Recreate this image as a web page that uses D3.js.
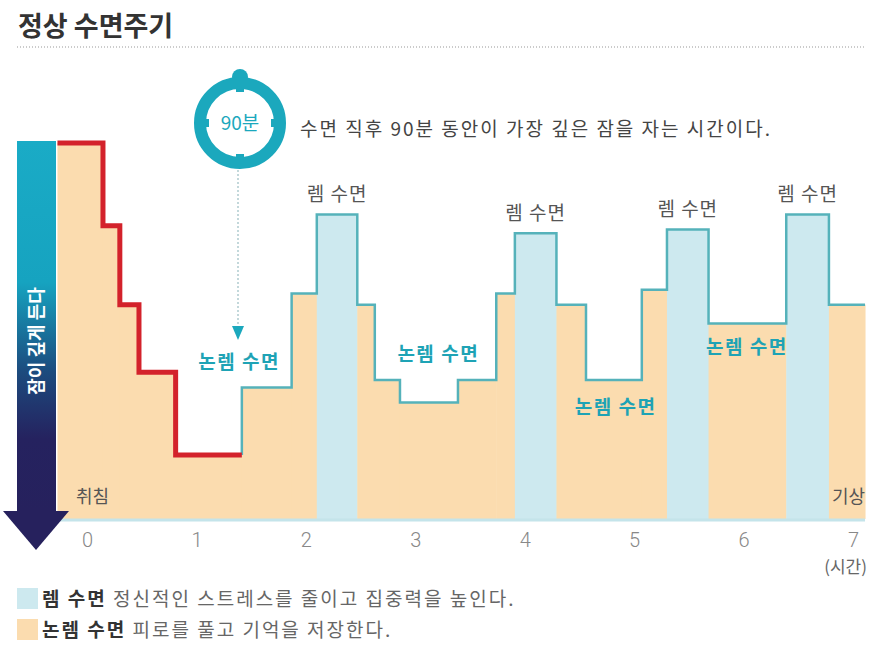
<!DOCTYPE html>
<html>
<head>
<meta charset="utf-8">
<script src="https://cdn.jsdelivr.net/npm/d3@7"></script>
<style>
  body { margin: 0; background: #fff; }
  text { font-family: "Noto Sans CJK KR", "Noto Sans", sans-serif; }
</style>
</head>
<body>
<div id="canvas"></div>
<script>
"use strict";

/* Data: sleep stages, start hour + depth (0 = awake, bigger = deeper) */
let stageStart = [-0.27, 0.146, 0.30, 0.475, 0.81, 1.415, 1.87, 2.10, 2.47, 2.63, 2.86,
  3.39, 3.74, 3.91, 4.29, 4.56, 5.07, 5.30, 5.68, 6.39, 6.78];
let stageEnd = 7.11;
let stageDepth = [0, 22, 43, 61, 83, 65, 40, 19, 43, 63, 69,
  63, 40, 24, 43, 63, 39, 23, 48, 19, 43];
let stageType = ["N", "N", "N", "N", "N", "N", "N", "R", "N", "N", "N",
  "N", "N", "R", "N", "N", "N", "R", "N", "R", "N"];
let firstCycleCount = 5; // first 90 minutes (red)

let hourTicks = [0, 1, 2, 3, 4, 5, 6, 7];

let nremLabelHour = [1.39, 3.21, 4.83, 6.03];
let nremLabelDepth = [60, 58, 72, 56];

/* SVG setup */
let svgWidth = 880;
let svgHeight = 656;
let baseY = 519;

let svg = d3.select("#canvas")
  .append("svg")
  .attr("width", svgWidth)
  .attr("height", svgHeight);

/* Scales */
let xScale = d3.scaleLinear().domain([0, 7]).range([87, 853]);
let yScale = d3.scaleLinear().domain([0, 100]).range([143, baseY]);

let teal = "#1ba8bd";
let lineTeal = "#55b2ba";
let orange = "#fbdcaf";
let paleBlue = "#cde9ef";

/* Title */
svg.append("text")
  .attr("x", 18)
  .attr("y", 36)
  .style("font-size", "27px")
  .style("font-weight", "bold")
  .attr("fill", "#333")
  .text("정상 수면주기");

svg.append("line")
  .attr("x1", 17).attr("x2", 866)
  .attr("y1", 47).attr("y2", 47)
  .attr("stroke", "#bbb")
  .attr("stroke-width", 1.5)
  .attr("stroke-dasharray", "1,2");

/* Stage fills */
let segments = stageStart.map(function (s, i) {
  return {
    start: s,
    end: i < stageStart.length - 1 ? stageStart[i + 1] : stageEnd,
    depth: stageDepth[i],
    type: stageType[i]
  };
});

svg.selectAll("rect.stage")
  .data(segments)
  .enter()
  .append("rect")
  .attr("class", "stage")
  .attr("x", function (d) { return xScale(d.start); })
  .attr("width", function (d) { return xScale(d.end) - xScale(d.start) + 0.5; })
  .attr("y", function (d) { return yScale(d.depth); })
  .attr("height", function (d) { return baseY - yScale(d.depth); })
  .attr("fill", function (d) { return d.type === "R" ? paleBlue : orange; });

/* Baseline */
svg.append("line")
  .attr("x1", xScale(stageStart[0]))
  .attr("x2", xScale(stageEnd))
  .attr("y1", baseY + 1)
  .attr("y2", baseY + 1)
  .attr("stroke", "#c4e4ea")
  .attr("stroke-width", 3);

/* Step lines */
let stepLine = d3.line()
  .x(function (d) { return xScale(d[0]); })
  .y(function (d) { return yScale(d[1]); })
  .curve(d3.curveStepAfter);

let redPts = [];
for (let i = 0; i < firstCycleCount; i++) {
  redPts.push([stageStart[i], stageDepth[i]]);
}
redPts.push([stageStart[firstCycleCount], stageDepth[firstCycleCount - 1]]);

let tealPts = [[stageStart[firstCycleCount], stageDepth[firstCycleCount - 1]]];
for (let i = firstCycleCount; i < stageStart.length; i++) {
  tealPts.push([stageStart[i], stageDepth[i]]);
}
tealPts.push([stageEnd, stageDepth[stageDepth.length - 1]]);

svg.append("path")
  .attr("d", stepLine(tealPts))
  .attr("fill", "none")
  .attr("stroke", lineTeal)
  .attr("stroke-width", 2.5);

svg.append("path")
  .attr("d", stepLine(redPts))
  .attr("fill", "none")
  .attr("stroke", "#d3222b")
  .attr("stroke-width", 5);

/* Left arrow: 잠이 깊게 든다 */
let grad = svg.append("defs").append("linearGradient")
  .attr("id", "deepGrad")
  .attr("x1", 0).attr("y1", 0).attr("x2", 0).attr("y2", 1);
grad.append("stop").attr("offset", "0%").attr("stop-color", "#1aabc6");
grad.append("stop").attr("offset", "38%").attr("stop-color", "#16a3c0");
grad.append("stop").attr("offset", "62%").attr("stop-color", "#1c4b7e");
grad.append("stop").attr("offset", "80%").attr("stop-color", "#25225f");
grad.append("stop").attr("offset", "100%").attr("stop-color", "#26215d");

svg.append("rect")
  .attr("x", 17).attr("y", 141)
  .attr("width", 39).attr("height", 372)
  .attr("fill", "url(#deepGrad)");

svg.append("path")
  .attr("d", "M3,511 L69,511 L36,550 Z")
  .attr("fill", "#26215d");

svg.append("text")
  .attr("transform", "translate(43,341) rotate(-90)")
  .attr("text-anchor", "middle")
  .style("font-size", "18px")
  .style("font-weight", "bold")
  .attr("fill", "#fff")
  .text("잠이 깊게 든다");

/* Axis */
let xAxis = d3.axisBottom(xScale)
  .tickValues(hourTicks)
  .tickFormat(d3.format("d"))
  .tickSize(0)
  .tickPadding(14);

let axisG = svg.append("g")
  .attr("transform", "translate(0," + baseY + ")")
  .call(xAxis);
axisG.select(".domain").remove();
axisG.selectAll("text")
  .style("font-family", "Roboto, \"Noto Sans\", sans-serif")
  .style("font-weight", "300")
  .style("font-size", "20px")
  .attr("fill", "#888");

svg.append("text")
  .attr("x", 867).attr("y", 573)
  .attr("text-anchor", "end")
  .style("font-size", "17px")
  .attr("fill", "#666")
  .text("(시간)");

svg.append("text")
  .attr("x", 76).attr("y", 503)
  .style("font-size", "18px")
  .attr("fill", "#555")
  .text("취침");

svg.append("text")
  .attr("x", 865).attr("y", 503)
  .attr("text-anchor", "end")
  .style("font-size", "18px")
  .attr("fill", "#555")
  .text("기상");

/* Stage labels */
let remSegs = segments.filter(function (d) { return d.type === "R"; });
svg.selectAll("text.rem")
  .data(remSegs)
  .enter()
  .append("text")
  .attr("class", "rem")
  .attr("x", function (d) { return (xScale(d.start) + xScale(d.end)) / 2; })
  .attr("y", function (d) { return yScale(d.depth) - 13; })
  .attr("text-anchor", "middle")
  .style("font-size", "19px")
  .style("letter-spacing", "1px")
  .attr("fill", "#555")
  .text("렘 수면");

for (let i = 0; i < nremLabelHour.length; i++) {
  svg.append("text")
    .attr("x", xScale(nremLabelHour[i]))
    .attr("y", yScale(nremLabelDepth[i]))
    .attr("text-anchor", "middle")
    .style("font-size", "19px")
    .style("font-weight", "bold")
    .style("letter-spacing", "1.5px")
    .attr("fill", "#1ea3b5")
    .text("논렘 수면");
}

/* 90분 clock */
let cx = 240, cy = 123;
svg.append("rect")
  .attr("x", cx - 3).attr("y", 76)
  .attr("width", 6).attr("height", 10)
  .attr("fill", teal);
svg.append("circle")
  .attr("cx", cx).attr("cy", 77)
  .attr("r", 8)
  .attr("fill", teal);
svg.append("circle")
  .attr("cx", cx).attr("cy", cy)
  .attr("r", 40)
  .attr("fill", "#fff")
  .attr("stroke", teal)
  .attr("stroke-width", 12);
let notchAngles = [0, 90, 180, 270];
for (let i = 0; i < notchAngles.length; i++) {
  svg.append("rect")
    .attr("x", -4).attr("y", -38)
    .attr("width", 8).attr("height", 7)
    .attr("fill", teal)
    .attr("transform", "translate(" + cx + "," + cy + ") rotate(" + notchAngles[i] + ")");
}
svg.append("text")
  .attr("x", cx).attr("y", cy + 7)
  .attr("text-anchor", "middle")
  .style("font-size", "19px")
  .attr("fill", teal)
  .text("90분");

svg.append("line")
  .attr("x1", 238).attr("x2", 238)
  .attr("y1", 170).attr("y2", 328)
  .attr("stroke", "#9cbfc4")
  .attr("stroke-width", 1.2)
  .attr("stroke-dasharray", "2,2");
svg.append("path")
  .attr("d", "M232,326 L244,326 L238,340 Z")
  .attr("fill", teal);

svg.append("text")
  .attr("x", 300).attr("y", 136)
  .style("font-size", "19px")
  .style("letter-spacing", "2px")
  .attr("fill", "#444")
  .text("수면 직후 90분 동안이 가장 깊은 잠을 자는 시간이다.");

/* Legend */
let legendRows = [
  { color: paleBlue, name: "렘 수면", desc: " 정신적인 스트레스를 줄이고 집중력을 높인다." },
  { color: orange, name: "논렘 수면", desc: " 피로를 풀고 기억을 저장한다." }
];
for (let i = 0; i < legendRows.length; i++) {
  let ly = 588 + i * 31;
  svg.append("rect")
    .attr("x", 17).attr("y", ly)
    .attr("width", 21).attr("height", 21)
    .attr("fill", legendRows[i].color);
  let t = svg.append("text")
    .attr("x", 42).attr("y", ly + 18)
    .style("font-size", "19px")
    .style("letter-spacing", "2px");
  t.append("tspan")
    .style("font-weight", "bold")
    .attr("fill", "#333")
    .text(legendRows[i].name);
  t.append("tspan")
    .attr("fill", "#666")
    .text(legendRows[i].desc);
}
</script>
</body>
</html>
